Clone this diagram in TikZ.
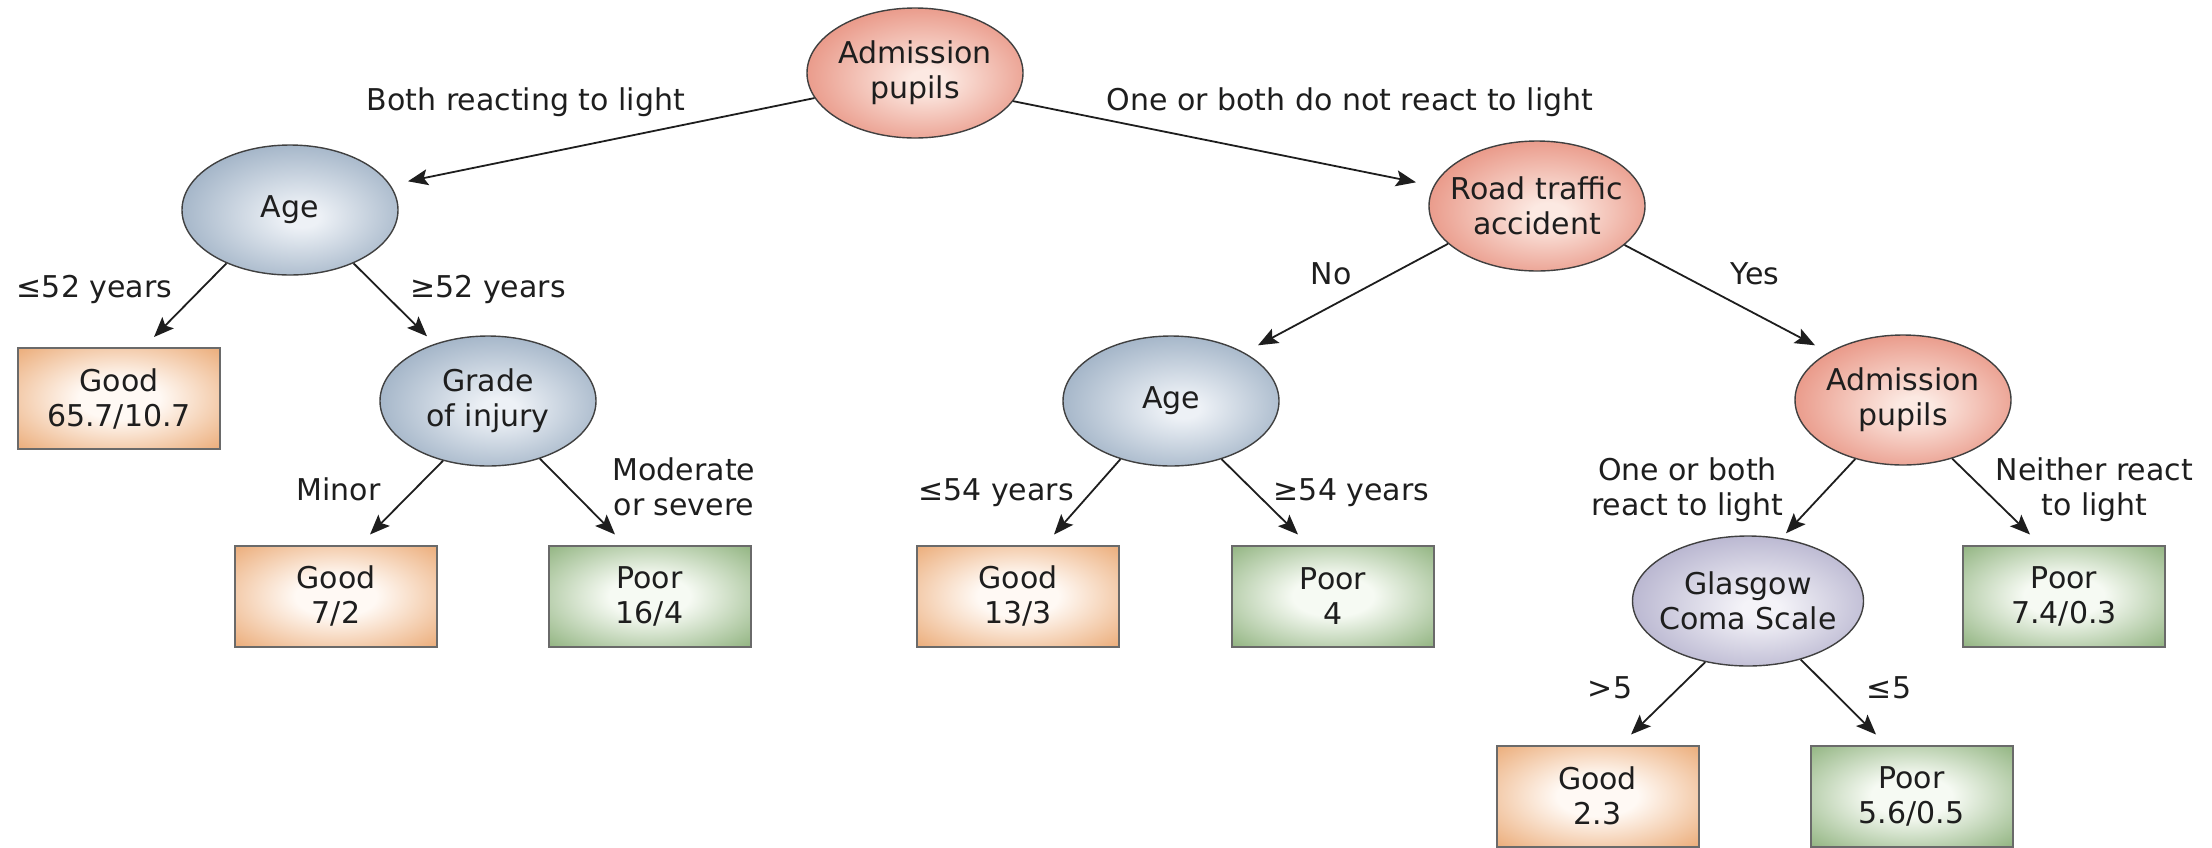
\documentclass[tikz,border=0pt]{standalone}
\usepackage{fontspec}
\setmainfont{DejaVu Sans}
\usetikzlibrary{shapes.geometric, arrows.meta}

\definecolor{redin}{HTML}{FCE9E2}
\definecolor{redout}{HTML}{DC6049}
\definecolor{bluein}{HTML}{EDF1F6}
\definecolor{blueout}{HTML}{6F8AA7}
\definecolor{purplein}{HTML}{F4F3F8}
\definecolor{purpleout}{HTML}{8F8BB4}
\definecolor{goodin}{HTML}{FFF9F4}
\definecolor{goodout}{HTML}{E89F64}
\definecolor{poorin}{HTML}{F6FAF3}
\definecolor{poorout}{HTML}{80A86D}
\definecolor{edgegray}{HTML}{404040}
\definecolor{boxgray}{HTML}{6A6A6A}
\definecolor{inkgray}{HTML}{1E1E1E}

\pgfdeclareradialshading{redglow}{\pgfpoint{3bp}{-3bp}}{color(0bp)=(redin); color(4bp)=(redin); color(44bp)=(redout); color(50bp)=(redout)}
\pgfdeclareradialshading{blueglow}{\pgfpoint{3bp}{-3bp}}{color(0bp)=(bluein); color(4bp)=(bluein); color(44bp)=(blueout); color(50bp)=(blueout)}
\pgfdeclareradialshading{purpleglow}{\pgfpoint{3bp}{-3bp}}{color(0bp)=(purplein); color(4bp)=(purplein); color(44bp)=(purpleout); color(50bp)=(purpleout)}
\pgfdeclareradialshading{goodglow}{\pgfpointorigin}{color(0bp)=(goodin); color(10bp)=(goodin); color(40bp)=(goodout); color(50bp)=(goodout)}
\pgfdeclareradialshading{poorglow}{\pgfpointorigin}{color(0bp)=(poorin); color(10bp)=(poorin); color(40bp)=(poorout); color(50bp)=(poorout)}

\tikzstyle{arrow} = [line width=0.9pt, draw=inkgray, -{Stealth[length=10pt, width=8pt, inset=2pt]}]
\tikzstyle{split} = [ellipse, draw=edgegray, line width=0.7pt, minimum width=108pt, minimum height=65pt, inner xsep=-12pt, inner ysep=0pt, align=center]
\tikzstyle{leaf} = [rectangle, draw=boxgray, line width=1pt, minimum width=101pt, minimum height=50.5pt, inner sep=0pt, align=center]
\tikzstyle{cond} = [anchor=base, align=center]

\begin{document}
\begin{tikzpicture}[x=0.5pt, y=-0.5pt, font=\fontsize{15pt}{17.5pt}\selectfont, text=inkgray]
  \useasboundingbox (0,0) rectangle (2212,847);

  % Splits
  \node[split, shading=redglow] (adm) at (915,73) {Admission\\pupils};
  \node[split, shading=blueglow] (age) at (290,210) {Age};
  \node[split, shading=redglow] (rta) at (1537,206) {Road traffic\\accident};
  \node[split, shading=blueglow] (grade) at (488,401) {Grade\\of injury};
  \node[split, shading=blueglow] (agerta) at (1171,401) {Age};
  \node[split, shading=redglow] (admrta) at (1903,400) {Admission\\pupils};
  \node[split, shading=purpleglow, minimum width=115.5pt] (gcs) at (1748,601) {Glasgow\\Coma Scale};

  % Outcomes
  \node[leaf, shading=goodglow] (good1) at (119,398.5) {Good\\65.7/10.7};
  \node[leaf, shading=goodglow] (good2) at (336,596) {Good\\7/2};
  \node[leaf, shading=poorglow] (poor1) at (649.5,596) {Poor\\16/4};
  \node[leaf, shading=goodglow] (good3) at (1018,596) {Good\\13/3};
  \node[leaf, shading=poorglow] (poor2) at (1333,596) {Poor\\4};
  \node[leaf, shading=poorglow] (poor3) at (2064,596) {Poor\\7.4/0.3};
  \node[leaf, shading=goodglow] (good4) at (1597.5,796) {Good\\2.3};
  \node[leaf, shading=poorglow] (poor4) at (1911.5,796) {Poor\\5.6/0.5};

  % Branch labels (base = last line)
  \node[cond] (lboth) at (526,110) {Both reacting to light};
  \node[cond] (lnot) at (1350,110) {One or both do not react to light};
  \node[cond] (lle52) at (94.5,297) {≤52 years};
  \node[cond] (lge52) at (488,297) {≥52 years};
  \node[cond] (lno) at (1331,284) {No};
  \node[cond] (lyes) at (1755,284) {Yes};
  \node[cond] (lminor) at (338.5,500) {Minor};
  \node[cond] (lmod) at (684,515) {Moderate\\or severe};
  \node[cond] (lle54) at (996,500) {≤54 years};
  \node[cond] (lge54) at (1351.5,500) {≥54 years};
  \node[cond] (lreact) at (1687.5,515) {One or both\\react to light};
  \node[cond] (lneither) at (2094.5,515) {Neither react\\to light};
  \node[cond] (lgt5) at (1610,698) {>5};
  \node[cond] (lle5) at (1889,698) {≤5};

  % Arrows
  \draw[arrow] (adm.194) -- ([shift={(118,37)}]age.north);
  \draw[arrow] (adm.344) -- ([shift={(-121,42)}]rta.north);
  \draw[arrow] (age.220) -- ([shift={(35,-10)}]good1.north);
  \draw[arrow] (age.320) -- ([shift={(-61,1)}]grade.north);
  \draw[arrow] (grade.233) -- ([shift={(34,-10)}]good2.north);
  \draw[arrow] (grade.312) -- ([shift={(-34.5,-10)}]poor1.north);
  \draw[arrow] (rta.203) -- ([shift={(87,10)}]agerta.north);
  \draw[arrow] (rta.336) -- ([shift={(-88,11)}]admrta.north);
  \draw[arrow] (agerta.229) -- ([shift={(36,-10)}]good3.north);
  \draw[arrow] (agerta.311) -- ([shift={(-35,-10)}]poor2.north);
  \draw[arrow] (admrta.231) -- ([shift={(38,-2)}]gcs.north);
  \draw[arrow] (admrta.310) -- ([shift={(-34,-10)}]poor3.north);
  \draw[arrow] (gcs.235) -- ([shift={(33.5,-10)}]good4.north);
  \draw[arrow] (gcs.312) -- ([shift={(-35.5,-10)}]poor4.north);
\end{tikzpicture}
\end{document}
